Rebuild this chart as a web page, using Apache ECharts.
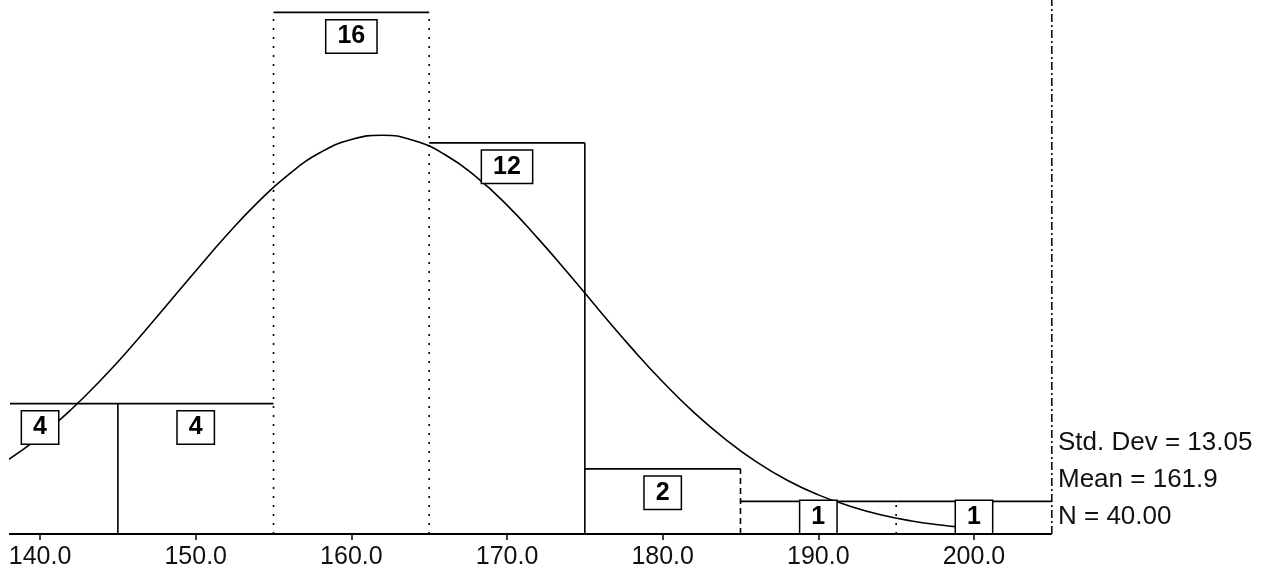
<!DOCTYPE html>
<html><head><meta charset="utf-8">
<script src="https://cdn.jsdelivr.net/npm/echarts@6/dist/echarts.min.js"></script>
<style>html,body{margin:0;padding:0;background:#fff}#c{width:1273px;height:577px}</style>
</head><body><div id="c"></div>
<script>
// ---- data ----
const binEdges = [135, 145, 155, 165, 175, 185, 195, 205];
const counts = [4, 4, 16, 12, 2, 1, 1];
const tickValues = [140, 150, 160, 170, 180, 190, 200];
const curveX = [138, 140, 142, 144, 146, 148, 150, 152, 154, 156, 158, 160, 162, 164, 166, 168, 170, 172, 174, 176, 178, 180, 182, 184, 186, 188, 190, 192, 194, 196, 198, 199];
const curveY = [2.29, 2.99, 3.82, 4.77, 5.82, 6.94, 8.07, 9.17, 10.18, 11.04, 11.70, 12.10, 12.23, 12.07, 11.64, 10.96, 10.09, 9.06, 7.96, 6.82, 5.71, 4.67, 3.73, 2.92, 2.22, 1.65, 1.20, 0.86, 0.59, 0.40, 0.27, 0.22];
const statLines = ['Std. Dev = 13.05', 'Mean = 161.9', 'N = 40.00'];

// ---- layout ----
const X_MIN = 138.07, X_MAX = 219.21, Y_MAX = 16.38;
const FONT = '"Liberation Sans", Arial, sans-serif';
const edgeDash = [null, null, [2, 7], [2, 7], null, [6, 4], [2, 7]];

const barData = counts.map((c, i) => [binEdges[i], binEdges[i + 1], c]);
const curveData = curveX.map((x, i) => [x, curveY[i]]);
const lastEdge = binEdges[binEdges.length - 1];

const chart = echarts.init(document.getElementById('c'), null, {renderer: 'canvas'});
chart.setOption({
  animation: false,
  backgroundColor: '#fff',
  grid: {left: 10, right: 0, top: 0, bottom: 43},
  xAxis: {
    type: 'value', min: X_MIN, max: X_MAX,
    axisLine: {show: false},
    splitLine: {show: false},
    axisTick: {show: true, customValues: tickValues, length: 6, lineStyle: {color: '#000', width: 1.5}},
    axisLabel: {show: true, customValues: tickValues, formatter: v => v.toFixed(1), fontSize: 25, fontFamily: FONT, color: '#111', margin: 11}
  },
  yAxis: {type: 'value', min: 0, max: Y_MAX, show: false},
  graphic: [{
    type: 'text', x: 1058, y: 480,
    style: {text: statLines.join('\n'), font: '26px ' + FONT, fill: '#111', verticalAlign: 'middle', lineHeight: 37}
  }],
  series: [
    {
      type: 'line', data: [[binEdges[0], 0], [lastEdge, 0]], symbol: 'none', z: 3,
      lineStyle: {color: '#000', width: 1.8}, silent: true
    },
    {
      type: 'line', data: [[lastEdge, 0], [lastEdge, Y_MAX]], symbol: 'none', z: 3,
      lineStyle: {color: '#000', width: 1.5, type: [8, 3, 2, 3]}, silent: true
    },
    {
      type: 'line', data: curveData, smooth: true, symbol: 'none', z: 2,
      lineStyle: {color: '#000', width: 1.6}, silent: true
    },
    {
      type: 'custom', data: barData, z: 3, clip: true, silent: true,
      renderItem: function (params, api) {
        const i = params.dataIndex;
        const x0 = api.value(0), x1 = api.value(1), h = api.value(2);
        const prevH = i > 0 ? counts[i - 1] : 0;
        const pB = api.coord([x0, 0]);
        const pL = api.coord([x0, Math.max(h, prevH)]);
        const pTL = api.coord([x0, h]);
        const pTR = api.coord([x1, h]);
        const children = [
          {type: 'line', shape: {x1: pTL[0], y1: pTL[1], x2: pTR[0], y2: pTR[1]}, style: {stroke: '#000', lineWidth: 1.8}},
          {type: 'line', shape: {x1: pB[0], y1: pB[1], x2: pL[0], y2: pL[1]}, style: {stroke: '#000', lineWidth: 1.6, lineDash: edgeDash[i]}}
        ];
        return {type: 'group', children: children};
      }
    },
    {
      type: 'custom', data: barData, z: 5, clip: true, silent: true,
      renderItem: function (params, api) {
        const x0 = api.value(0), x1 = api.value(1), h = api.value(2);
        const pTop = api.coord([(x0 + x1) / 2, h]);
        const base = api.coord([x0, 0])[1];
        const top = Math.min(pTop[1] + 8, base - 33);
        return {
          type: 'text', x: pTop[0], y: top,
          style: {
            text: String(h), font: 'bold 25px ' + FONT, fill: '#000',
            align: 'center', verticalAlign: 'top', lineHeight: 26,
            backgroundColor: '#fff', borderColor: '#000', borderWidth: 1.5, padding: [3, 11, 3, 11]
          }
        };
      }
    }
  ]
});
</script></body></html>
